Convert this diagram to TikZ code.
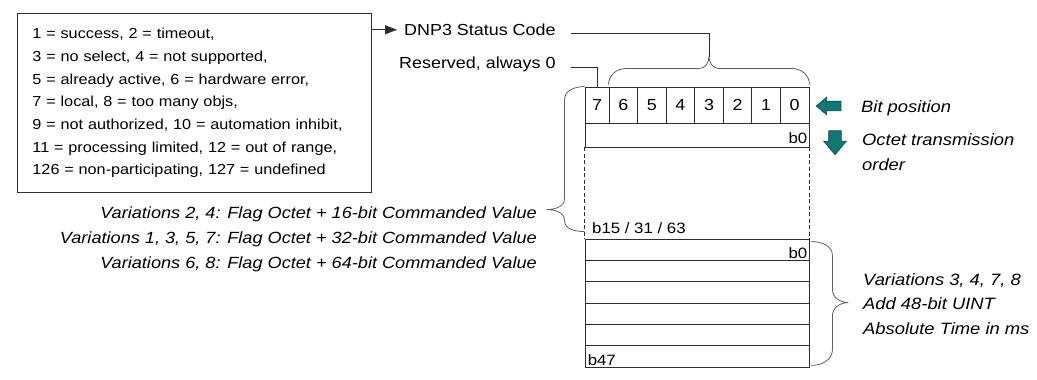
\documentclass[tikz,border=0pt]{standalone}
\usepackage{fontspec}
\setmainfont[FakeStretch=1.12]{Liberation Sans}
\usetikzlibrary{arrows.meta, shapes.arrows, positioning, calc}
\definecolor{arrowteal}{RGB}{16,120,116}
\definecolor{linegray}{RGB}{45,45,45}
\definecolor{bracegray}{RGB}{95,95,95}

\begin{document}
\begin{tikzpicture}[
    x=1pt, y=-1pt,
    codebox/.style={
        rectangle, draw=linegray, line width=0.9pt,
        minimum width=354pt, minimum height=179pt,
        text width=324pt, inner xsep=15pt, inner ysep=0pt,
        align=left, font=\fontsize{14.5}{22.67}\selectfont
    },
    bitcell/.style={
        rectangle, draw=linegray, line width=0.9pt,
        minimum width=28.57pt, minimum height=36pt, inner sep=0pt,
        font=\fontsize{16}{19}\selectfont
    },
    octetrow/.style={
        rectangle, draw=linegray, line width=0.9pt,
        minimum width=224pt, minimum height=24pt, inner sep=0pt
    },
    timerow/.style={
        rectangle, draw=linegray, line width=0.9pt,
        minimum width=224pt, minimum height=21.33pt, inner sep=0pt
    },
    lbl/.style={inner sep=0pt, font=\fontsize{16}{19}\selectfont},
    bitlbl/.style={inner sep=0pt, font=\fontsize{15}{18}\selectfont},
    note/.style={inner sep=0pt, align=left, font=\fontsize{16.4}{24.5}\selectfont\itshape},
    varnote/.style={inner sep=0pt, align=right, font=\fontsize{16.2}{25}\selectfont\itshape},
    flow/.style={
        single arrow, fill=arrowteal, draw=arrowteal!60!black, line width=0.6pt,
        single arrow head indent=0pt, single arrow tip angle=80
    },
    brc/.style={draw=bracegray, line width=0.8pt},
    link/.style={draw=linegray, line width=0.9pt}
]
\useasboundingbox (0,0) rectangle (1037,380);

% completion codes
\node[codebox, anchor=north west] (codes) at (17,13) {1 = success, 2 = timeout,\\
    3 = no select, 4 = not supported,\\
    5 = already active, 6 = hardware error,\\
    7 = local, 8 = too many objs,\\
    9 = not authorized, 10 = automation inhibit,\\
    11 = processing limited, 12 = out of range,\\
    126 = non-participating, 127 = undefined};

\node[lbl, anchor=base west] (status)   at (404,35.5) {DNP3 Status Code};
\node[lbl, anchor=base west] (reserved) at (399,68)   {Reserved, always 0};

% flag octet
\node[bitcell, minimum width=24pt] (bit7) at (597,105) {7};
\foreach \b in {0,...,6}
    \node[bitcell] (bit\b) at ({609+(6-\b+0.5)*28.57},105) {\b};

\node[octetrow] (octet) at (697,135) {};
\node[bitlbl, anchor=base east] (octetlsb) at ([xshift=-2pt,yshift=4pt]octet.south east) {b0};
\node[bitlbl, anchor=base west] (valmsb) at (592,233.3) {b15 / 31 / 63};

% absolute time
\foreach \r in {1,...,6}
    \node[timerow] (time\r) at (697,{239+(\r-0.5)*21.33}) {};
\node[bitlbl, anchor=base east] (timelsb) at ([xshift=-2pt,yshift=2pt]time1.south east) {b0};
\node[bitlbl, anchor=base west] (timemsb) at ([xshift=3pt,yshift=2pt]time6.south west) {b47};

\draw[link, dash pattern=on 4pt off 2.5pt] (octet.south west) -- (time1.north west);
\draw[link, dash pattern=on 4pt off 2.5pt] (octet.south east) -- (time1.north east);

% legend
\node[flow, shape border rotate=180, inner sep=4.5pt, minimum height=25pt,
      minimum width=17pt, single arrow head extend=4pt] (bitarrow) at (831.5,106) {};
\node[flow, shape border rotate=270, inner sep=6pt, minimum height=24pt,
      minimum width=22pt, single arrow head extend=5pt] (orderarrow) at (835,139) {};
\node[note, anchor=base west] (bitpos) at (861,112) {Bit position};
\node[note, anchor=base west] (order)  at (862,170) {Octet transmission\\order};

\node[note, anchor=base west] (timenote) at (863,334)
    {Variations 3, 4, 7, 8\\Add 48-bit UINT\\Absolute Time in ms};
\node[varnote, anchor=base east] (varnote) at (537,268.3)
    {Variations 2, 4: Flag Octet + 16-bit Commanded Value\\
     Variations 1, 3, 5, 7: Flag Octet + 32-bit Commanded Value\\
     Variations 6, 8: Flag Octet + 64-bit Commanded Value};

% connectors
\coordinate (statustip) at ($(bit6.north west)!0.5!(bit0.north east) + (0,-30)$);
\draw[link, -{Triangle[length=12pt, width=9pt]}, shorten >=7pt]
    (status.west -| codes.east) -- (status.west);
\draw[link, shorten <=15pt] ([yshift=2pt]status.base east) -| (statustip);
\draw[link, shorten <=15pt] ([yshift=1pt]reserved.base east) -| (bit7.north);

% braces
\draw[brc] ([yshift=2pt]bit6.north west) to[out=90,in=180] ++(17,-16)
    -- ($(statustip)+(-10,12)$) to[out=0,in=-90] (statustip)
    to[out=-90,in=180] ++(10,12) -- ($([yshift=2pt]bit0.north east)+(-17,-16)$)
    to[out=0,in=90] ([yshift=2pt]bit0.north east);
\draw[brc] (bit7.north west) to[out=180,in=90] ++(-20,13) -- ++(0,99)
    to[out=-90,in=0] ++(-18,11) to[out=0,in=90] ++(18,11)
    to[out=-90,in=180] ([yshift=7pt]time1.north west);
\draw[brc] ([xshift=2pt,yshift=-3pt]time1.north east) to[out=0,in=90] ++(21,14)
    -- ++(0,34) to[out=-90,in=180] ++(16,13) to[out=180,in=90] ++(-16,13)
    -- ++(0,34) to[out=-90,in=0] ([xshift=2pt,yshift=2pt]time6.south east);

\end{tikzpicture}
\end{document}
